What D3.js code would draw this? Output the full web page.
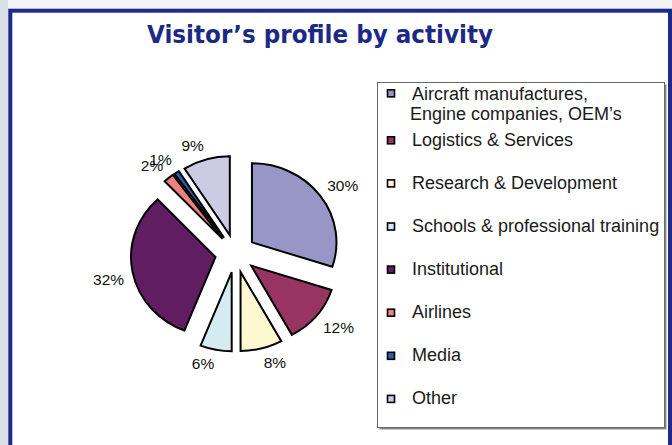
<!DOCTYPE html>
<html>
<head>
<meta charset="utf-8">
<script src="https://cdn.jsdelivr.net/npm/d3@7"></script>
<style>
  html, body { margin: 0; padding: 0; background: #f3f4f7; }
  svg { display: block; }
</style>
</head>
<body>
<svg id="chart" width="672" height="445"></svg>
<script>
// Visitor shares by activity (percent), in pie order starting at 12 o'clock
const categories = [
  "Aircraft manufactures,\nEngine companies, OEM’s",
  "Logistics & Services",
  "Research & Development",
  "Schools & professional training",
  "Institutional",
  "Airlines",
  "Media",
  "Other"
];
const shares = [30, 12, 8, 6, 32, 2, 1, 9];
const sliceColors = ["#9896c6", "#973462", "#fdf8cf", "#d3ebf1", "#611d62", "#ee8080", "#2b60aa", "#cdcae4"];
const titleText = "Visitor’s profile by activity";

const W = 672, H = 445;
const svg = d3.select("#chart");

// page backdrop and framed panel
svg.append("rect").attr("width", W).attr("height", H).attr("fill", "#f3f4f7");
svg.append("rect").attr("x", 0).attr("y", 0).attr("width", 8).attr("height", H).attr("fill", "#dadee5");
svg.append("rect")
  .attr("x", 10.3).attr("y", 10.7).attr("width", 659.7).attr("height", 600)
  .attr("fill", "#ffffff").attr("stroke", "#1c2b8a").attr("stroke-width", 4);

svg.append("text")
  .attr("x", 147).attr("y", 43)
  .attr("font-family", "'DejaVu Sans', Verdana, sans-serif")
  .attr("font-weight", "bold").attr("font-size", 24)
  .attr("fill", "#1c2a85")
  .attr("textLength", 346).attr("lengthAdjust", "spacingAndGlyphs")
  .text(titleText);

// exploded pie, slightly wider than tall
const cx = 235.5, cy = 253.5;
const R = 79, kx = 1.07, explode = 19, labelR = 106;

const pie = d3.pie().sort(null).value(d => d).startAngle(0).endAngle(2 * Math.PI);
const arc = d3.arc().innerRadius(0).outerRadius(R);
const slices = pie(shares);

const pieG = svg.append("g");
slices.forEach((s, i) => {
  const mid = (s.startAngle + s.endAngle) / 2;
  const ux = Math.sin(mid), uy = -Math.cos(mid);
  pieG.append("path")
    .attr("d", arc(s))
    .attr("transform", `translate(${cx + kx * explode * ux},${cy + explode * uy}) scale(${kx},1)`)
    .attr("fill", sliceColors[i])
    .attr("stroke", "#000")
    .attr("stroke-width", 2)
    .attr("stroke-linejoin", "miter")
    .attr("vector-effect", "non-scaling-stroke");
});

// percentage labels: the box corner facing the centre sits on the label ellipse
const labelFont = 15.5, capH = labelFont * 0.716;
slices.forEach((s, i) => {
  const mid = (s.startAngle + s.endAngle) / 2;
  const ux = Math.sin(mid), uy = -Math.cos(mid);
  const t = svg.append("text")
    .attr("font-family", "'Liberation Sans', Arial, sans-serif")
    .attr("font-size", labelFont)
    .attr("fill", "#111")
    .attr("text-anchor", "middle")
    .text(shares[i] + "%");
  const w = t.node().getComputedTextLength();
  const ax = cx + kx * labelR * ux, ay = cy + labelR * uy;
  const bx = ax + Math.sign(ux) * w / 2;
  const by = ay + Math.sign(uy) * 6;
  t.attr("x", bx).attr("y", by + capH / 2);
});

// legend
const lg = svg.append("g");
lg.append("rect").attr("x", 379.5).attr("y", 84.5).attr("width", 287).attr("height", 345).attr("fill", "#8a8a8a");
lg.append("rect").attr("x", 377.5).attr("y", 82.5).attr("width", 287).attr("height", 345)
  .attr("fill", "#ffffff").attr("stroke", "#666").attr("stroke-width", 1);

const firstY = 93.3, secondY = 140.3, rowStep = 43.1;
categories.forEach((name, i) => {
  const y = i === 0 ? firstY : secondY + (i - 1) * rowStep;
  lg.append("rect")
    .attr("x", 387.5).attr("y", y - 3.5).attr("width", 7).attr("height", 7)
    .attr("fill", sliceColors[i]).attr("stroke", "#000").attr("stroke-width", 1.6);
  const lines = name.split("\n");
  const baseOffset = lines.length > 1 ? 6.7 : 5.2;
  lines.forEach((line, j) => {
    lg.append("text")
      .attr("x", j === 0 ? 412 : 410)
      .attr("y", y + baseOffset + j * 20)
      .attr("font-family", "'Liberation Sans', Arial, sans-serif")
      .attr("font-size", 18)
      .attr("fill", "#1a1a1a")
      .text(line);
  });
});
</script>
</body>
</html>
